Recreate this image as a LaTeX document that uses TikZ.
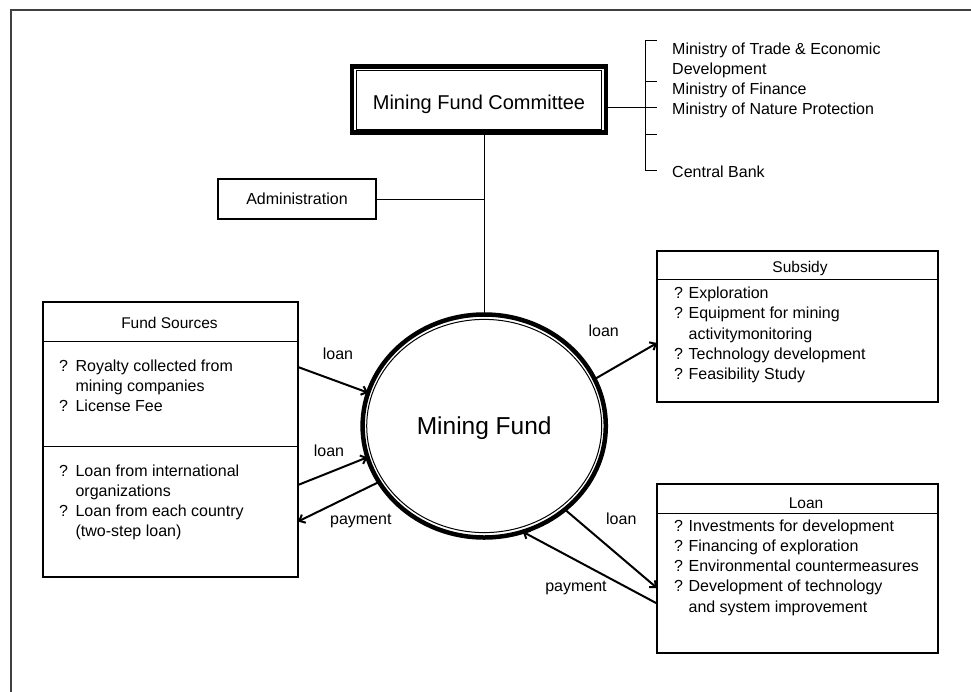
\documentclass[tikz,border=0pt]{standalone}
\usepackage{fontspec}
\setmainfont{Liberation Sans}
\usetikzlibrary{shapes.geometric,arrows.meta}
\tikzset{
  box/.style={draw, rectangle, line width=1.2pt, inner sep=0pt, outer sep=0pt},
  txt/.style={font=\fontsize{16}{20.3}\selectfont, inner sep=0pt},
  ttl/.style={font=\fontsize{15.5}{20}\selectfont, inner sep=0pt, anchor=base},
  rule/.style={line width=1pt},
  flow/.style={line width=2pt, -{Straight Barb[length=5pt,width=9pt]}}
}
\begin{document}
\begin{tikzpicture}[x=1pt, y=-1pt]
    \pgfmathsetmacro{\cx}{484.2}
    \pgfmathsetmacro{\cy}{426}
    \pgfmathsetmacro{\rx}{121.6}
    \pgfmathsetmacro{\ry}{111.5}
    \pgfmathsetmacro{\qx}{674}
    \useasboundingbox (0,0) rectangle (971,691);
    \clip (0,0) rectangle (971,691);
    \draw[line width=1.5pt, black!75] (11,700) -- (11,10) -- (980,10);

    % committee and members
    \node[box, line width=4.5pt, minimum width=254pt, minimum height=66pt,%
          font=\fontsize{20}{24}\selectfont, text height=19.6pt, text depth=0pt]%
          (cm) at (479,99.5) {Mining Fund Committee};
    \draw[rule] ([shift={(4.5pt,-3.5pt)}]cm.north west) rectangle%
    ([shift={(-4.5pt,3.5pt)}]cm.south east);
    \coordinate (br) at (645,107);
    \draw[rule] (cm.east |- br) -- ([xshift=12pt]br);
    \draw[rule] (657,40) -- (645,40) -- (645,170) -- (657,170);
    \foreach \yy in {81,134} \draw[rule] (645,\yy) -- (657,\yy);
    \node[txt, anchor=base west] (trade) at (672,54) {Ministry of Trade \& Economic};
    \node[txt, anchor=base west] (devt) at (672,74) {Development};
    \node[txt, anchor=base west] (finance) at (672,94) {Ministry of Finance};
    \node[txt, anchor=base west] (nature) at (672,114) {Ministry of Nature Protection};
    \node[txt, anchor=base west] (bank) at (672,177.3) {Central Bank};

    \node[box, txt, minimum width=158pt, minimum height=40pt] (adm) at (297,199)%
         {Administration};

    % the fund
    \node[ellipse, draw, line width=4.5pt, minimum width=2*\rx pt,%
          minimum height=2*\ry pt, inner sep=0pt, outer sep=0pt,%
          font=\fontsize{24.5}{28}\selectfont, text height=16.6pt, text depth=0pt]%
          (mf) at (\cx,\cy) {Mining Fund};
    \draw[rule] (mf.center) ellipse [x radius=117.5pt, y radius=106.6pt];
    \draw[rule] (mf.north |- cm.south) -- (mf.north);
    \draw[rule] (adm.east) -- (adm.east -| mf.north);

    % fund sources
    \node[box, minimum width=255pt, minimum height=275pt] (fs) at (170.5,439.5) {};
    \draw[rule] ([yshift=-39pt]fs.north west) -- ([yshift=-39pt]fs.north east);
    \draw[rule] ([yshift=-144pt]fs.north west) -- ([yshift=-144pt]fs.north east);
    \node[ttl] (fstitle) at (169.5,328.3) {Fund Sources};
    \node[txt, anchor=base west] (royal) at (59,371)%
         {\begin{tabular}[t]{@{}l@{\hspace{7.5pt}}l@{}}
          ? & Royalty collected from\\ & mining companies\\ ? & License Fee
          \end{tabular}};
    \node[txt, anchor=base west] (intl) at (59,476)%
         {\begin{tabular}[t]{@{}l@{\hspace{7.5pt}}l@{}}
          ? & Loan from international\\ & organizations\\
          ? & Loan from each country\\ & (two-step loan)
          \end{tabular}};

    % subsidy
    \node[box, minimum width=281pt, minimum height=151pt] (sub) at (797.5,326.5) {};
    \draw[rule] ([yshift=-28pt]sub.north west) -- ([yshift=-28pt]sub.north east);
    \node[ttl] (subtitle) at (800,272.5) {Subsidy};
    \node[txt, anchor=base west] (subitems) at (\qx,298.5)%
         {\begin{tabular}[t]{@{}l@{\hspace{5.5pt}}l@{}}
          ? & Exploration\\ ? & Equipment for mining\\ & activitymonitoring\\
          ? & Technology development\\ ? & Feasibility Study
          \end{tabular}};

    % loan
    \node[box, minimum width=281pt, minimum height=169pt] (ln) at (797.5,568.5) {};
    \draw[rule] ([yshift=-29pt]ln.north west) -- ([yshift=-29pt]ln.north east);
    \node[ttl] (lntitle) at (806,508) {Loan};
    \node[txt, anchor=base west] (lnitems) at (\qx,531)%
         {\begin{tabular}[t]{@{}l@{\hspace{5.5pt}}l@{}}
          ? & Investments for development\\ ? & Financing of exploration\\
          ? & Environmental countermeasures\\ ? & Development of technology\\
          & and system improvement
          \end{tabular}};

    % flows
    \draw[flow] ([yshift=72.5pt]fs.east) -- (mf.164.5);
    \draw[flow] ([yshift=-45.5pt]fs.east) -- (mf.195);
    \draw[flow] (mf.208.8) -- ([yshift=-82pt]fs.east);
    \draw[flow] (mf.23.3) -- ([yshift=-16.5pt]sub.west);
    \draw[flow] (mf.314) -- ([yshift=-19.5pt]ln.west);
    \draw[flow] ([yshift=-35pt]ln.west) -- (mf.290.7);
    \node[txt] (fsloan) at (338,353.7) {loan};
    \node[txt] (intloan) at (329,451) {loan};
    \node[txt] (fspay) at (360.8,520.5) {payment};
    \node[txt] (subloan) at (603.7,331) {loan};
    \node[txt] (lnloan) at (621.3,519) {loan};
    \node[txt] (lnpay) at (576,588) {payment};
  \end{tikzpicture}
\end{document}
